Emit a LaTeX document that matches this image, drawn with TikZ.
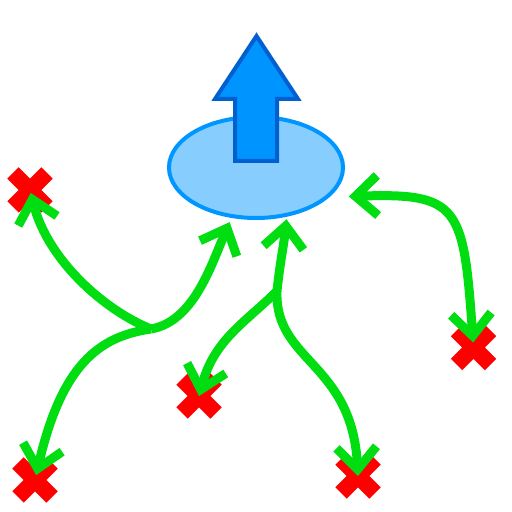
\documentclass[tikz,border=0pt]{standalone}
\usepackage{tikz}
\usetikzlibrary{arrows.meta}
\usetikzlibrary{shapes.geometric}
\usetikzlibrary{shapes.misc}
\usetikzlibrary{positioning}
\definecolor{vinegreen}{RGB}{0,221,17}
\definecolor{zonefill}{RGB}{135,206,255}
\definecolor{zoneedge}{RGB}{0,150,255}
\definecolor{liftfill}{RGB}{0,148,255}
\definecolor{liftedge}{RGB}{0,96,208}
\tikzset{fail/.style={cross out, draw=red, line width=16pt, minimum size=34pt, inner sep=0pt, outer sep=0pt}}
\tikzset{zone/.style={ellipse, draw=zoneedge, fill=zonefill, line width=4pt, minimum width=174pt, minimum height=101pt, inner sep=0pt}}
\tikzset{lift/.style={draw=liftedge, fill=liftfill, line width=4pt, line join=miter}}
\tikzset{vine/.style={draw=vinegreen, line width=9pt}}
\begin{document}
\begin{tikzpicture}[x=1pt,y=1pt,>={Straight Barb[length=22pt,width=40pt]}]
   \useasboundingbox (0,0) rectangle (512,512);
   \node[zone] (zone) at (256,344.5) {};
   \draw[lift] (235,351) -- (235,413) -- (215,413) -- (256.5,476)
      -- (298,413) -- (277,413) -- (277,351) -- cycle;

   \node[fail] (fail1) at (30,322) {};
   \node[fail] (fail2) at (473.5,164.5) {};
   \node[fail] (fail3) at (199,116) {};
   \node[fail] (fail4) at (35,32) {};
   \node[fail] (fail5) at (358,36) {};

   \coordinate (fork1) at (151,183);
   \coordinate (fork2) at (277,221);

   \path[vine]
      (fork1) edge[vine,->, out=10, in=247, out looseness=0.8, shorten >=4.5pt] (zone.-116)
      (fork1) edge[vine,->, out=158, in=284, out looseness=0.7, shorten >=3pt] (fail1.center)
      (fork1) edge[vine,->, out=188, in=77, out looseness=0.71, in looseness=1.58, shorten >=5pt] (fail4.center)
      (fork2) edge[vine,->, out=84, in=264, shorten >=2.5pt] (zone.-58)
      (fork2) edge[vine,->, out=225, in=75, out looseness=0.87, in looseness=1.15] (fail3.center)
      (fork2) edge[vine,->, out=268, in=93, out looseness=0.9, in looseness=1.45] (fail5.center)
      (zone.-22) edge[vine,<->, out=2, in=94, out looseness=1.59, in looseness=1.74,
         shorten <=19.4pt, shorten >=5pt] (fail2.center)
   ;
\end{tikzpicture}
\end{document}
